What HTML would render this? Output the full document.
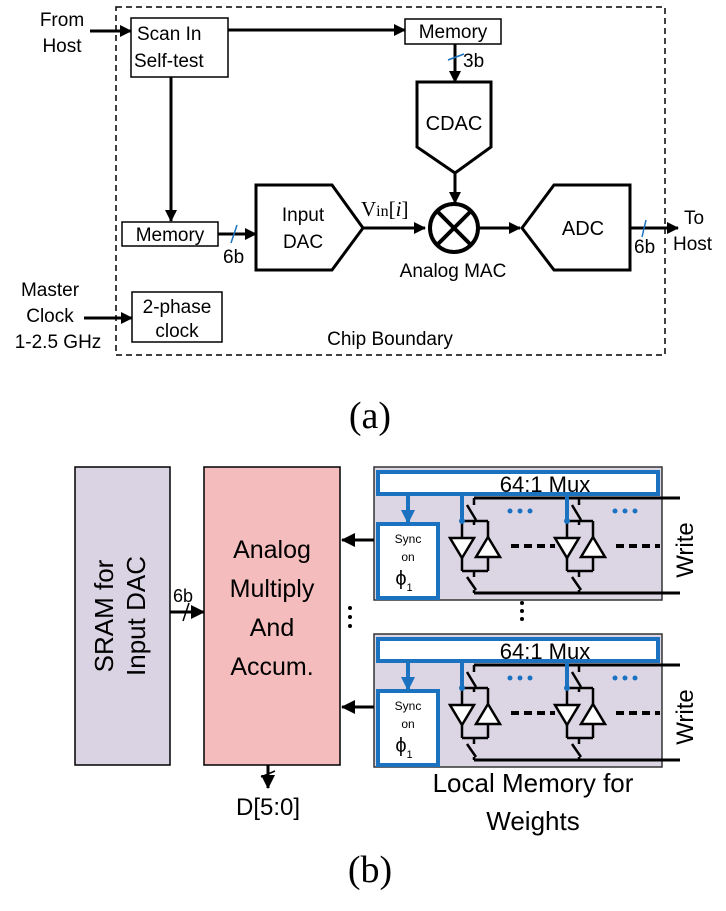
<!DOCTYPE html>
<html><head><style>
body{margin:0;background:#fff;}
svg text{font-family:"Liberation Sans",sans-serif;fill:#000;}
</style></head><body>
<svg width="726" height="906" viewBox="0 0 726 906" xmlns="http://www.w3.org/2000/svg">
<defs>
<marker id="ah" markerWidth="12" markerHeight="12" refX="11" refY="6" orient="auto" markerUnits="userSpaceOnUse"><path d="M0,0 L12,6 L0,12 Z" fill="#000"/></marker>
<marker id="ab" markerWidth="14" markerHeight="14" refX="13" refY="7" orient="auto" markerUnits="userSpaceOnUse"><path d="M0,0 L14,7 L0,14 Z" fill="#000"/></marker>
<marker id="abl" markerWidth="14" markerHeight="14" refX="12" refY="7" orient="auto" markerUnits="userSpaceOnUse"><path d="M0,0 L14,7 L0,14 Z" fill="#1a72c0"/></marker>
</defs>
<!-- (a) -->
<rect x="116" y="7" width="549" height="348" fill="none" stroke="#000" stroke-width="1.5" stroke-dasharray="6,4"/>
<text x="62" y="26" font-size="19" text-anchor="middle">From</text>
<text x="62" y="52" font-size="19" text-anchor="middle">Host</text>
<line x1="90" y1="31" x2="131" y2="31" stroke="#000" stroke-width="3" marker-end="url(#ah)"/>
<rect x="131" y="18" width="97" height="59" fill="#fff" stroke="#000" stroke-width="1.5"/>
<text x="137" y="40" font-size="19">Scan In</text>
<text x="134" y="67" font-size="19">Self-test</text>
<line x1="228" y1="30" x2="405" y2="30" stroke="#000" stroke-width="3" marker-end="url(#ah)"/>
<rect x="405" y="19" width="96" height="25" fill="#fff" stroke="#000" stroke-width="1.5"/>
<text x="453" y="38" font-size="19" text-anchor="middle">Memory</text>
<line x1="455" y1="44" x2="455" y2="82" stroke="#000" stroke-width="3" marker-end="url(#ah)"/>
<line x1="448" y1="60" x2="464" y2="54" stroke="#1a72c0" stroke-width="1.5"/>
<text x="463" y="67" font-size="19">3b</text>
<path d="M417,82 H491 V147 L455,173 L417,147 Z" fill="#fff" stroke="#000" stroke-width="3"/>
<text x="454" y="130" font-size="20" text-anchor="middle">CDAC</text>
<line x1="455" y1="173" x2="455" y2="203" stroke="#000" stroke-width="3" marker-end="url(#ah)"/>
<circle cx="454" cy="228" r="24" fill="#fff" stroke="#000" stroke-width="4"/>
<line x1="437" y1="211" x2="471" y2="245" stroke="#000" stroke-width="4"/>
<line x1="471" y1="211" x2="437" y2="245" stroke="#000" stroke-width="4"/>
<text x="453" y="277" font-size="19" text-anchor="middle">Analog MAC</text>
<line x1="171" y1="77" x2="171" y2="221" stroke="#000" stroke-width="3" marker-end="url(#ah)"/>
<rect x="122" y="222" width="96" height="24" fill="#fff" stroke="#000" stroke-width="1.5"/>
<text x="170" y="241" font-size="19" text-anchor="middle">Memory</text>
<line x1="218" y1="234" x2="256" y2="234" stroke="#000" stroke-width="3" marker-end="url(#ah)"/>
<line x1="231" y1="243" x2="237" y2="225" stroke="#1a72c0" stroke-width="1.5"/>
<text x="223" y="263" font-size="19">6b</text>
<path d="M256,185 H332 L363,228 L332,270 H256 Z" fill="#fff" stroke="#000" stroke-width="3"/>
<text x="303" y="221" font-size="19" text-anchor="middle">Input</text>
<text x="303" y="248" font-size="19" text-anchor="middle">DAC</text>
<line x1="363" y1="228" x2="425" y2="228" stroke="#000" stroke-width="3" marker-end="url(#ah)"/>
<text x="361" y="216" font-size="21" style="font-family:'Liberation Serif',serif">V<tspan font-size="16">in</tspan>[<tspan font-style="italic">i</tspan>]</text>
<line x1="478" y1="228" x2="520" y2="228" stroke="#000" stroke-width="3" marker-end="url(#ah)"/>
<path d="M522,228 L554,185 H630 V270 H554 Z" fill="#fff" stroke="#000" stroke-width="3"/>
<text x="583" y="235" font-size="20" text-anchor="middle">ADC</text>
<line x1="630" y1="228" x2="678" y2="228" stroke="#000" stroke-width="3" marker-end="url(#ah)"/>
<line x1="642" y1="237" x2="646" y2="220" stroke="#1a72c0" stroke-width="1.5"/>
<text x="634" y="253" font-size="19">6b</text>
<text x="684" y="224" font-size="19">To</text>
<text x="673" y="250" font-size="19">Host</text>
<text x="50" y="296" font-size="19" text-anchor="middle">Master</text>
<text x="50" y="322" font-size="19" text-anchor="middle">Clock</text>
<text x="58" y="348" font-size="19" text-anchor="middle">1-2.5 GHz</text>
<line x1="84" y1="318" x2="132" y2="318" stroke="#000" stroke-width="3" marker-end="url(#ah)"/>
<rect x="132" y="292" width="90" height="50" fill="#fff" stroke="#000" stroke-width="1.5"/>
<text x="177" y="313" font-size="19" text-anchor="middle">2-phase</text>
<text x="177" y="337" font-size="19" text-anchor="middle">clock</text>
<text x="390" y="345" font-size="19" text-anchor="middle">Chip Boundary</text>
<text x="370" y="428" font-size="38" text-anchor="middle" style="font-family:'Liberation Serif',serif">(a)</text>
<!-- (b) -->
<rect x="75" y="467" width="95" height="298" fill="#d9d3e3" stroke="#000" stroke-width="1.5"/>
<text transform="translate(113,616) rotate(-90)" font-size="26" text-anchor="middle">SRAM for</text>
<text transform="translate(145,616) rotate(-90)" font-size="26" text-anchor="middle">Input DAC</text>
<line x1="170" y1="612" x2="204" y2="612" stroke="#000" stroke-width="3" marker-end="url(#ab)"/>
<line x1="183" y1="621" x2="189" y2="603" stroke="#000" stroke-width="1.5"/>
<text x="173" y="602" font-size="18">6b</text>
<rect x="204" y="467" width="136" height="298" fill="#f4bcbc" stroke="#000" stroke-width="1.5"/>
<text x="272" y="558" font-size="25" text-anchor="middle">Analog</text>
<text x="272" y="597" font-size="25" text-anchor="middle">Multiply</text>
<text x="272" y="636" font-size="25" text-anchor="middle">And</text>
<text x="272" y="675" font-size="25" text-anchor="middle">Accum.</text>
<line x1="268" y1="765" x2="268" y2="788" stroke="#000" stroke-width="3" marker-end="url(#ab)"/>
<line x1="261" y1="777" x2="275" y2="771" stroke="#000" stroke-width="1.5"/>
<text x="268" y="815" font-size="24" text-anchor="middle">D[5:0]</text>
<circle cx="350" cy="608" r="2" fill="#000"/><circle cx="350" cy="617" r="2" fill="#000"/><circle cx="350" cy="626" r="2" fill="#000"/>
<circle cx="522" cy="603" r="2" fill="#000"/><circle cx="522" cy="611" r="2" fill="#000"/><circle cx="522" cy="619" r="2" fill="#000"/>

<g id="blk">
<rect x="374" y="467" width="288" height="133" fill="#dcd6e4" stroke="#333" stroke-width="1.5"/>
<line x1="474" y1="498" x2="680" y2="498" stroke="#000" stroke-width="3"/>
<line x1="474" y1="593" x2="680" y2="593" stroke="#000" stroke-width="3"/>
<rect x="378" y="472" width="280" height="22" fill="#fff" stroke="#1a72c0" stroke-width="4"/>
<text x="545" y="492" font-size="22" text-anchor="middle">64:1 Mux</text>
<line x1="408" y1="494" x2="408" y2="522" stroke="#1a72c0" stroke-width="4" marker-end="url(#abl)"/>
<rect x="378" y="524" width="60" height="74" fill="#fff" stroke="#1a72c0" stroke-width="4"/>
<text x="408" y="543" font-size="12" text-anchor="middle">Sync</text>
<text x="408" y="561" font-size="12" text-anchor="middle">on</text>
<text x="404" y="585" font-size="20" text-anchor="middle">ϕ<tspan font-size="11" dy="6">1</tspan></text>
<line x1="374" y1="540" x2="342" y2="540" stroke="#000" stroke-width="3" marker-end="url(#ab)"/>
<g id="cell" fill="none" stroke="#000" stroke-width="2.5">
<line x1="474" y1="498" x2="474" y2="505"/>
<line x1="467" y1="505" x2="476" y2="520"/>
<line x1="474" y1="520" x2="474" y2="525"/>
<line x1="462" y1="521" x2="488" y2="521"/>
<line x1="462" y1="521" x2="462" y2="571"/>
<line x1="488" y1="521" x2="488" y2="571"/>
<path d="M450,538 H474 L462,558 Z" fill="#fff"/>
<path d="M476,557 H500 L488,537 Z" fill="#fff"/>
<line x1="462" y1="571" x2="488" y2="571"/>
<line x1="474" y1="571" x2="474" y2="577"/>
<line x1="467" y1="577" x2="476" y2="590"/>
<line x1="474" y1="590" x2="474" y2="593"/>
<line x1="462" y1="494" x2="462" y2="521" stroke="#1a72c0" stroke-width="4"/>
<circle cx="462" cy="521" r="3" fill="#1a72c0" stroke="none"/>
<circle cx="510" cy="511" r="2.5" fill="#1a72c0" stroke="none"/><circle cx="520" cy="511" r="2.5" fill="#1a72c0" stroke="none"/><circle cx="530" cy="511" r="2.5" fill="#1a72c0" stroke="none"/>
<line x1="511" y1="546" x2="555" y2="546" stroke-width="4" stroke-dasharray="8,5"/>
</g>
<use href="#cell" transform="translate(105,0)"/>
<text transform="translate(693,550) rotate(-90)" font-size="24" text-anchor="middle">Write</text>
</g>
<use href="#blk" transform="translate(0,167)"/>
<text x="533" y="792" font-size="26" text-anchor="middle">Local Memory for</text>
<text x="533" y="830" font-size="26" text-anchor="middle">Weights</text>
<text x="370" y="882" font-size="38" text-anchor="middle" style="font-family:'Liberation Serif',serif">(b)</text>
</svg>
</body></html>
